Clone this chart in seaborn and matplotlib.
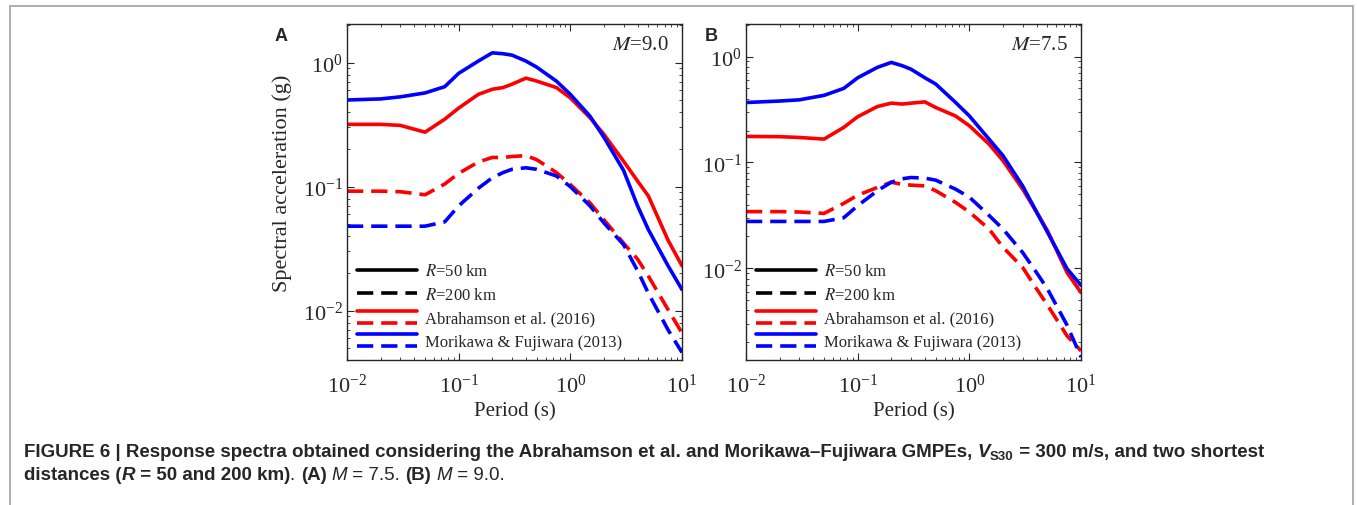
import numpy as np
import pandas as pd
import matplotlib
matplotlib.use('Agg')
import matplotlib.pyplot as plt
from matplotlib.lines import Line2D
from matplotlib.patches import Rectangle
from matplotlib.legend_handler import HandlerBase
import seaborn as sns

# periods (s) shared by every curve
periods = [0.01, 0.02, 0.03, 0.05, 0.075, 0.1, 0.15, 0.2, 0.25, 0.3, 0.4,
           0.5, 0.75, 1.0, 1.5, 2.0, 3.0, 4.0, 5.0, 7.5, 10.0]

# panel A, M=9.0
abr_50_m90 = [0.318, 0.318, 0.312, 0.275, 0.35, 0.43, 0.555, 0.61, 0.63, 0.67, 0.75,
              0.71, 0.63, 0.52, 0.36, 0.264, 0.16, 0.111, 0.084, 0.037, 0.023]
mf_50_m90 = [0.50, 0.51, 0.53, 0.57, 0.64, 0.82, 1.03, 1.2, 1.18, 1.15, 1.03,
             0.92, 0.71, 0.555, 0.37, 0.25, 0.135, 0.070, 0.045, 0.023, 0.0148]
abr_200_m90 = [0.092, 0.092, 0.091, 0.086, 0.105, 0.128, 0.158, 0.172, 0.172, 0.175, 0.178,
               0.165, 0.13, 0.104, 0.074, 0.054, 0.035, 0.026, 0.019, 0.0102, 0.0066]
mf_200_m90 = [0.048, 0.048, 0.048, 0.048, 0.052, 0.07, 0.097, 0.118, 0.13, 0.138, 0.142,
              0.138, 0.122, 0.10, 0.07, 0.051, 0.034, 0.021, 0.0138, 0.007, 0.0046]

# panel B, M=7.5
abr_50_m75 = [0.176, 0.175, 0.172, 0.166, 0.214, 0.27, 0.337, 0.363, 0.356, 0.363, 0.373,
              0.33, 0.275, 0.222, 0.149, 0.104, 0.056, 0.034, 0.0227, 0.0091, 0.0059]
mf_50_m75 = [0.368, 0.38, 0.39, 0.43, 0.50, 0.63, 0.79, 0.88, 0.82, 0.76, 0.63,
             0.55, 0.37, 0.275, 0.166, 0.116, 0.060, 0.034, 0.022, 0.0099, 0.0069]
abr_200_m75 = [0.0343, 0.0343, 0.034, 0.033, 0.041, 0.049, 0.058, 0.065, 0.062, 0.061, 0.060,
               0.054, 0.042, 0.034, 0.0235, 0.0158, 0.0102, 0.0064, 0.0045, 0.0023, 0.00166]
mf_200_m75 = [0.0277, 0.0277, 0.0277, 0.0277, 0.030, 0.039, 0.054, 0.065, 0.070, 0.072, 0.071,
              0.068, 0.056, 0.047, 0.0316, 0.0235, 0.0141, 0.0091, 0.0064, 0.0029, 0.00145]

models = ['Abrahamson et al. (2016)', 'Morikawa & Fujiwara (2013)']
distances = ['R=50 km', 'R=200 km']
palette = {models[0]: '#ff0000', models[1]: '#0000ff'}
dash = (4.5, 2.2)
LW = 2.6


def to_frame(a50, m50, a200, m200):
    parts = []
    for vals, mod, dist in [(a50, models[0], distances[0]), (m50, models[1], distances[0]),
                            (a200, models[0], distances[1]), (m200, models[1], distances[1])]:
        parts.append(pd.DataFrame({'period': periods, 'sa': vals, 'model': mod, 'dist': dist}))
    return pd.concat(parts, ignore_index=True)


df_a = to_frame(abr_50_m90, mf_50_m90, abr_200_m90, mf_200_m90)
df_b = to_frame(abr_50_m75, mf_50_m75, abr_200_m75, mf_200_m75)

sns.set_style('ticks')
plt.rcParams['font.family'] = ['Liberation Serif', 'DejaVu Serif']
plt.rcParams['mathtext.fontset'] = 'stix'
plt.rcParams['xtick.direction'] = 'in'
plt.rcParams['ytick.direction'] = 'in'
plt.rcParams['xtick.top'] = True
plt.rcParams['ytick.right'] = True
plt.rcParams['axes.linewidth'] = 1.0


class StackHandler(HandlerBase):
    # solid line above dashed line, as in the original legend
    def create_artists(self, legend, orig_handle, xdescent, ydescent, width, height, fontsize, trans):
        arts = []
        yc = -ydescent + height / 2
        for h, off in zip(orig_handle, [0.36, -0.36]):
            ln = Line2D([-xdescent, -xdescent + width], [yc + off * fontsize] * 2,
                        color=h.get_color(), lw=h.get_linewidth(), linestyle=h.get_linestyle())
            if h.get_linestyle() != '-':
                ln.set_dashes(dash)
            ln.set_transform(trans)
            arts.append(ln)
        return arts


W, H = 1357, 506
fig = plt.figure(figsize=(W / 100, H / 100), dpi=100)
ax_a = fig.add_axes([347 / W, 1 - 361 / H, 335 / W, 336 / H])
ax_b = fig.add_axes([746 / W, 1 - 361 / H, 335 / W, 336 / H])

for ax, df, ylim, mag in [(ax_a, df_a, (0.004, 2.05), '9.0'), (ax_b, df_b, (0.00136, 2.03), '7.5')]:
    sns.lineplot(data=df, x='period', y='sa', hue='model', style='dist', palette=palette,
                 dashes={distances[0]: '', distances[1]: dash}, estimator=None,
                 lw=LW, legend=False, ax=ax)
    ax.set_xscale('log')
    ax.set_yscale('log')
    ax.set_xlim(0.01, 10)
    ax.set_ylim(*ylim)
    ax.set_xlabel('Period (s)', fontsize=15, labelpad=3)
    ax.set_ylabel('')
    ax.tick_params(which='major', length=5, width=0.8, labelsize=16)
    ax.tick_params(axis='x', which='major', pad=10)
    ax.tick_params(axis='y', which='major', pad=3)
    ax.tick_params(which='minor', length=2.5, width=0.6)
    ax.text(0.96, 0.94, '$M$=' + mag, transform=ax.transAxes, ha='right', va='center', fontsize=15)

    k_solid = Line2D([], [], color='black', lw=LW)
    k_dash = Line2D([], [], color='black', lw=LW, linestyle='--', dashes=dash)
    red = (Line2D([], [], color=palette[models[0]], lw=LW),
           Line2D([], [], color=palette[models[0]], lw=LW, linestyle='--'))
    blue = (Line2D([], [], color=palette[models[1]], lw=LW),
            Line2D([], [], color=palette[models[1]], lw=LW, linestyle='--'))
    ax.legend([k_solid, k_dash, red, blue],
              ['$R$=50 km', '$R$=200 km', models[0], models[1]],
              handler_map={tuple: StackHandler()}, loc='lower left', frameon=False,
              fontsize=12, handlelength=3.6, handleheight=0.7, handletextpad=0.5,
              labelspacing=0.45, borderaxespad=0.3, borderpad=0.3)

ax_a.set_ylabel('Spectral acceleration (g)', fontsize=16, labelpad=8)
ax_a.yaxis.label.set_y(0.53)

# panel letters
fig.text(275 / W, 1 - 41 / H, 'A', fontsize=13, fontweight='bold', family='Liberation Sans')
fig.text(705 / W, 1 - 41 / H, 'B', fontsize=13, fontweight='bold', family='Liberation Sans')

# page frame
fig.patches.append(Rectangle((10 / W, -0.05), (1353 - 10) / W, 1.05 - 7 / H, transform=fig.transFigure,
                             fill=False, edgecolor='#a8a8a8', lw=1.3))

# caption with mixed bold / italic runs
renderer = fig.canvas.get_renderer()


def write_runs(x, y, runs, size=13.5):
    for txt, kw in runs:
        opts = dict(fontsize=size, family='Liberation Sans', va='baseline')
        opts.update(kw)
        dy = opts.pop('dy', 0)
        t = fig.text(x, y + dy / H, txt, **opts)
        x += t.get_window_extent(renderer=renderer).width / W


B = {'fontweight': 'bold'}
BI = {'fontweight': 'bold', 'style': 'italic'}
I = {'style': 'italic'}
write_runs(24 / W, 1 - 457 / H, [
    ('FIGURE 6 | Response spectra obtained considering the Abrahamson et al. and Morikawa\u2013Fujiwara GMPEs, ', B),
    ('V', BI),
    ('S30', {'fontweight': 'bold', 'fontsize': 9.5, 'dy': -3}),
    (' = 300 m/s, and two shortest', B),
])
write_runs(24 / W, 1 - 480 / H, [
    ('distances (', B), ('R', BI), (' = 50 and 200 km)', B), ('. ', {}),
    ('(A)', B), (' ', {}), ('M', I), (' = 7.5. ', {}),
    ('(B)', B), (' ', {}), ('M', I), (' = 9.0.', {}),
])

fig.savefig('out.png', dpi=100)
